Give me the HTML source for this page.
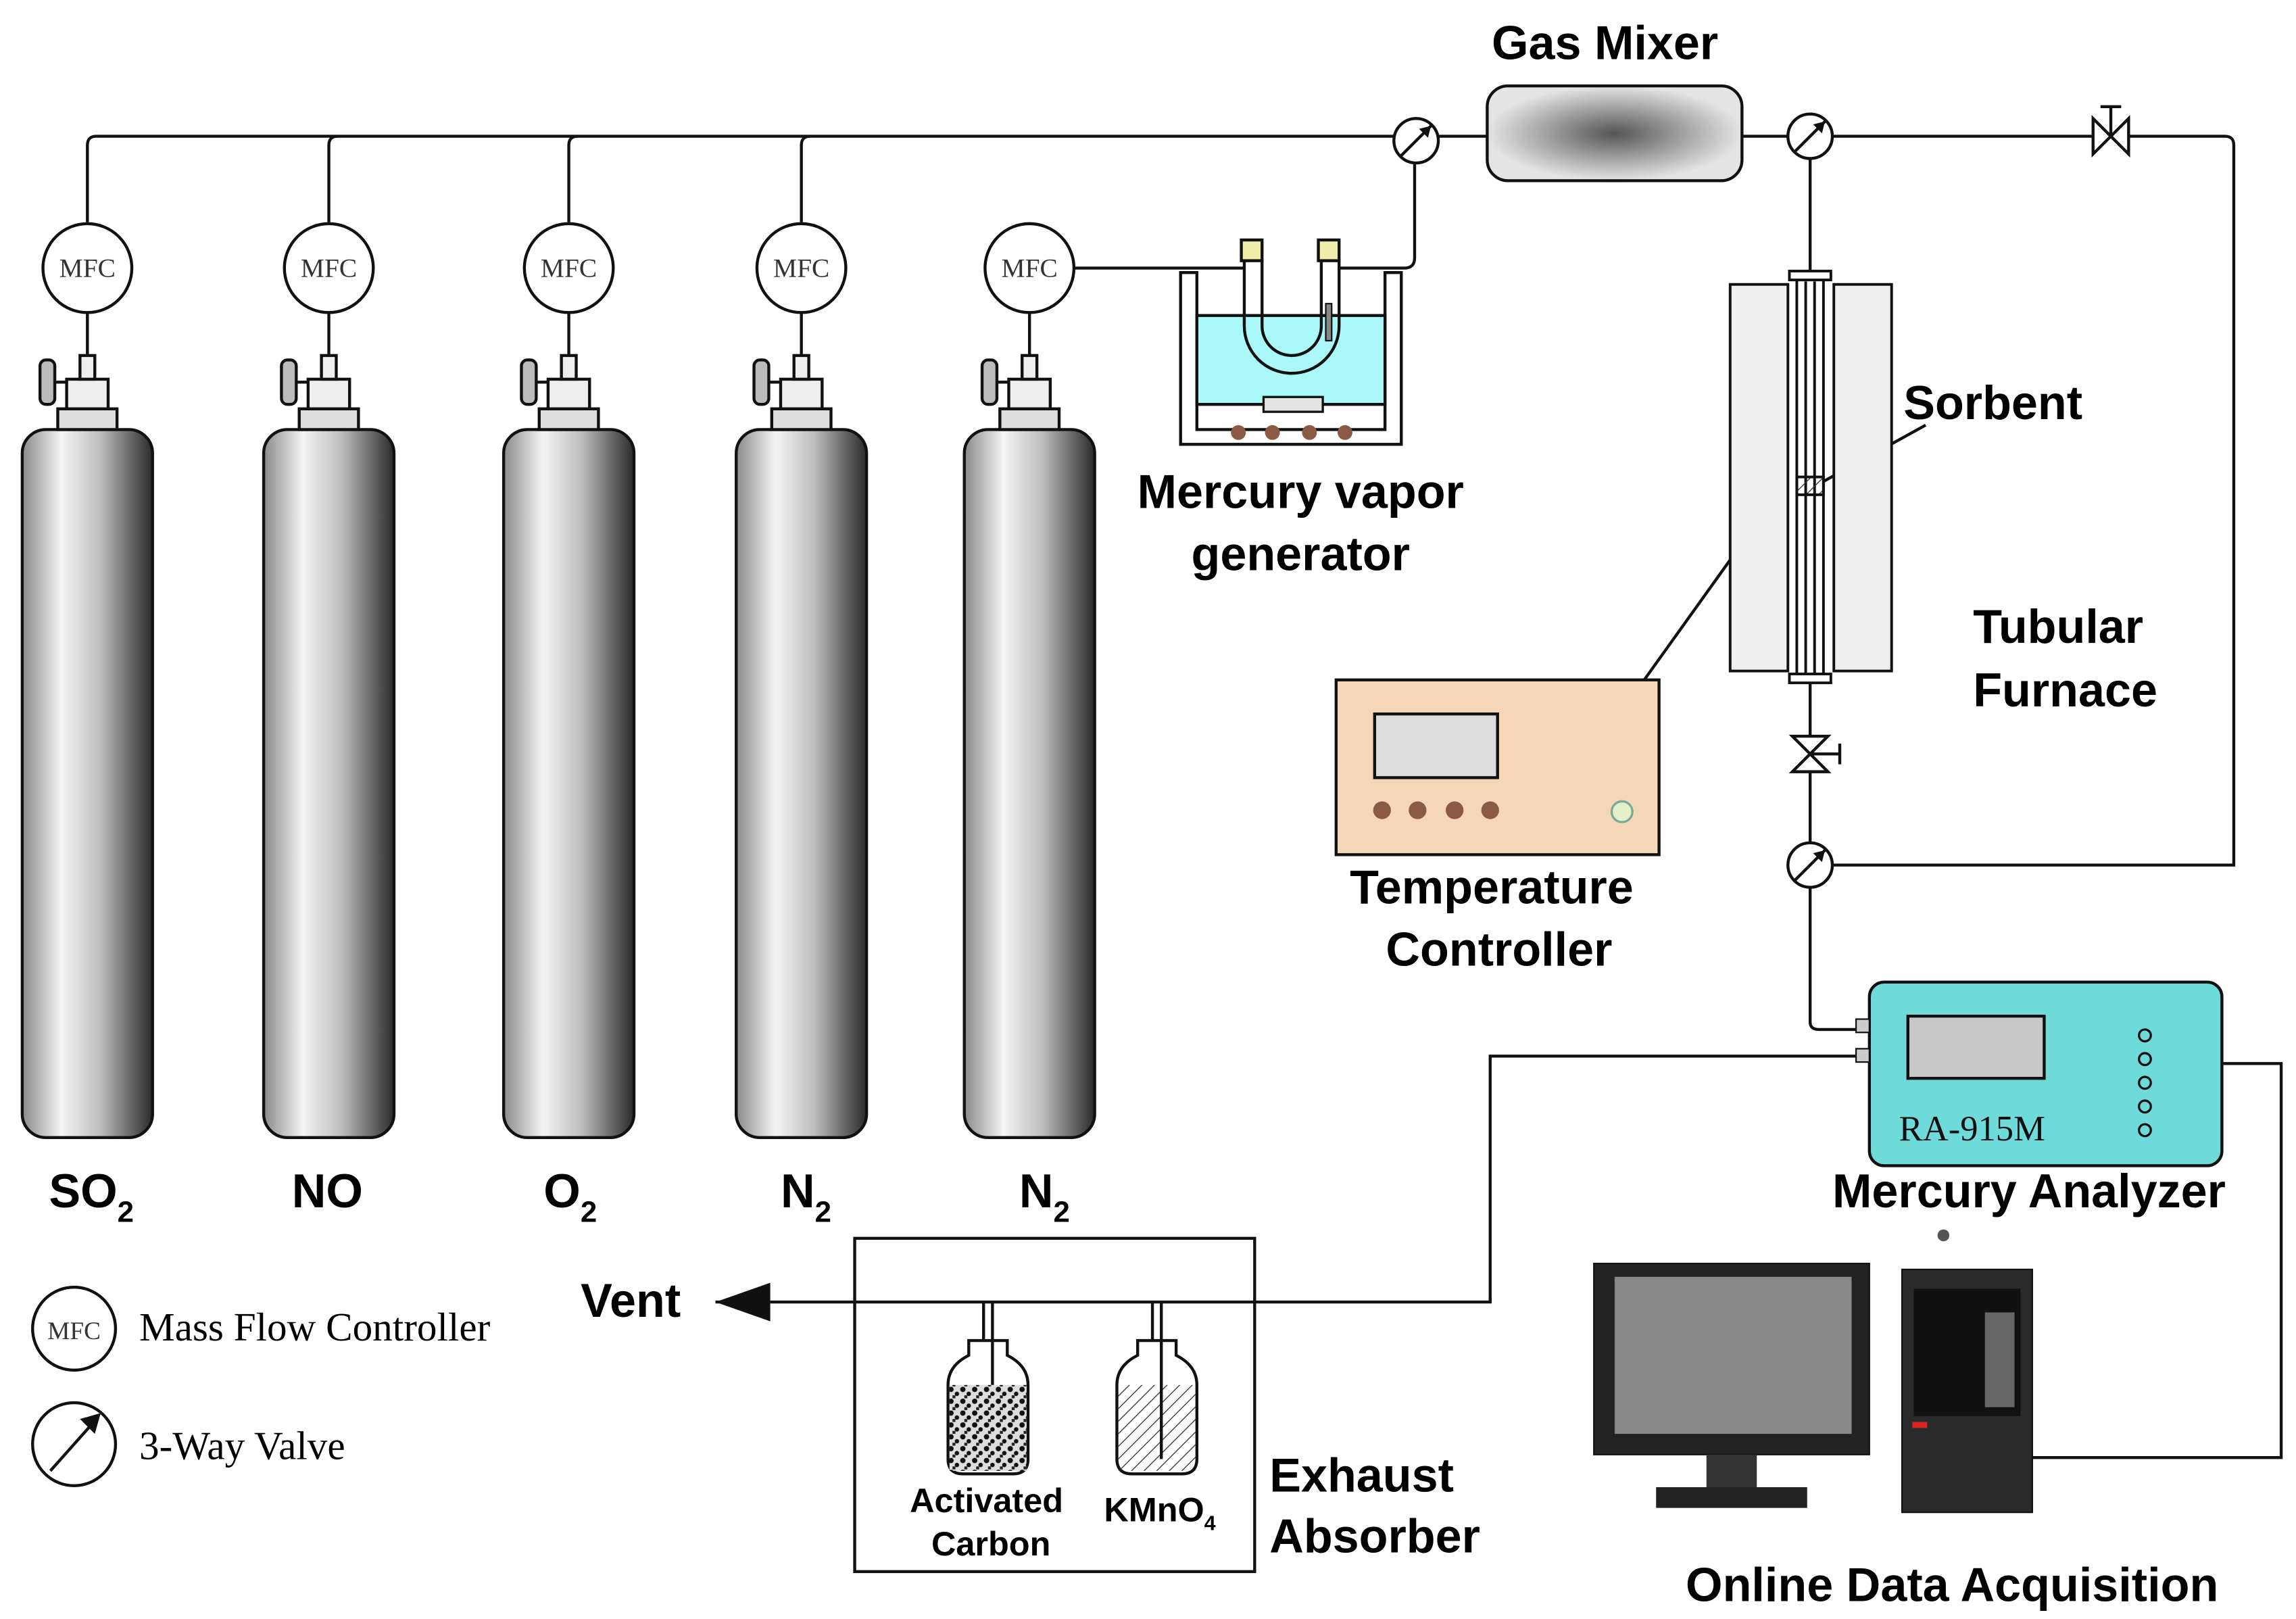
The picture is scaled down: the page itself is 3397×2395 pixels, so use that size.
<!DOCTYPE html>
<html><head><style>html,body{margin:0;padding:0;background:#fff}svg{display:block}</style></head><body>
<svg width="3397" height="2395" viewBox="0 0 1550 1093" preserveAspectRatio="none" xmlns="http://www.w3.org/2000/svg" font-family="Liberation Sans, sans-serif">
<defs>
<linearGradient id="cyl" x1="0" x2="1" y1="0" y2="0">
<stop offset="0" stop-color="#8a8a8a"/><stop offset="0.3" stop-color="#f4f4f4"/><stop offset="0.6" stop-color="#bdbdbd"/><stop offset="1" stop-color="#2a2a2a"/></linearGradient>
<radialGradient id="mix" cx="0.5" cy="0.5" r="0.5"><stop offset="0" stop-color="#555"/><stop offset="1" stop-color="#e4e4e4"/></radialGradient>
<pattern id="hatch" width="6" height="6" patternUnits="userSpaceOnUse" patternTransform="rotate(45)"><line x1="0" y1="0" x2="0" y2="6" stroke="#333" stroke-width="1.2"/></pattern>
<pattern id="dots" width="8" height="8" patternUnits="userSpaceOnUse"><rect width="8" height="8" fill="#ddd"/><circle cx="2" cy="2" r="1.8" fill="#111"/><circle cx="6" cy="5" r="1.5" fill="#111"/><rect x="3" y="6" width="2" height="2" fill="#222"/></pattern>
</defs>
<g fill="none" stroke="#111" stroke-width="2">
<path d="M59,150 V98 Q59,92 65,92 H941"/>
<path d="M222,150 V98 Q222,92 228,92"/>
<path d="M384,150 V98 Q384,92 390,92"/>
<path d="M541,150 V98 Q541,92 547,92"/>
<path d="M725,181 H840"/>
<path d="M904,181 H948 Q955,181 955,174 V110"/>
<path d="M971,92 H1004"/>
<path d="M1176,92 H1207"/>
<path d="M1237,92 H1413 M1437,92 H1502 Q1508,92 1508,98 V584 H1237"/>
<path d="M1222,107 V185"/>
<path d="M1222,460 V569"/>
<path d="M1222,599 V690 Q1222,695 1228,695 H1255"/>
<path d="M1255,713 H1006 V879 H520"/>
<path d="M1500,718 H1540 V984 H1372"/>
<path d="M1110,459 L1168,378"/>
<path d="M1222,330 L1300,287"/>
</g>
<g stroke="#111" stroke-width="2">
<g id="c1">
<rect x="15" y="290" width="88" height="478" rx="16" fill="url(#cyl)"/>
<rect x="39" y="276" width="40" height="14" fill="#ddd"/>
<rect x="45" y="256" width="28" height="20" fill="#eee"/>
<rect x="54" y="240" width="10" height="16" fill="#eee"/>
<rect x="27" y="243" width="10" height="30" rx="4" fill="#bbb"/>
<line x1="37" y1="258" x2="45" y2="258"/>
<line x1="59" y1="211" x2="59" y2="240"/>
<circle cx="59" cy="181" r="30" fill="#fff"/>
</g>
<use href="#c1" x="163"/><use href="#c1" x="325"/><use href="#c1" x="482"/><use href="#c1" x="636"/>
</g>
<g font-family="Liberation Serif, serif" font-size="18" fill="#333" text-anchor="middle">
<text x="59" y="187">MFC</text><text x="222" y="187">MFC</text><text x="384" y="187">MFC</text><text x="541" y="187">MFC</text><text x="695" y="187">MFC</text>
</g>
<g font-weight="bold" font-size="32" fill="#000">
<text x="33" y="815">SO<tspan font-size="20" dy="10">2</tspan></text>
<text x="197" y="815">NO</text>
<text x="367" y="815">O<tspan font-size="20" dy="10">2</tspan></text>
<text x="527" y="815">N<tspan font-size="20" dy="10">2</tspan></text>
<text x="688" y="815">N<tspan font-size="20" dy="10">2</tspan></text>
<text x="1007" y="40">Gas Mixer</text>
<text x="878" y="343" text-anchor="middle">Mercury vapor</text>
<text x="878" y="385" text-anchor="middle">generator</text>
<text x="1285" y="283">Sorbent</text>
<text x="1332" y="434">Tubular</text>
<text x="1332" y="477">Furnace</text>
<text x="1007" y="610" text-anchor="middle">Temperature</text>
<text x="1012" y="652" text-anchor="middle">Controller</text>
<text x="1237" y="815">Mercury Analyzer</text>
<text x="392" y="889">Vent</text>
<text x="857" y="1007">Exhaust</text>
<text x="857" y="1048">Absorber</text>
<text x="1138" y="1081">Online Data Acquisition</text>
</g>
<g stroke="#111" stroke-width="2">
<path d="M797,184 H808 V290 H935 V184 H946 V300 H797 Z" fill="#fff"/>
<rect x="808" y="213" width="127" height="60" fill="#aaf8f8"/>
<path d="M840,175 V220 A32,32 0 0 0 904,220 V175" fill="none"/>
<path d="M852,175 V220 A20,20 0 0 0 892,220 V175" fill="none"/>
<rect x="838" y="162" width="14" height="14" fill="#eeeeaa"/>
<rect x="890" y="162" width="14" height="14" fill="#eeeeaa"/>
<rect x="895" y="205" width="4" height="25" fill="#888" stroke-width="1"/>
<rect x="853" y="268" width="40" height="10" fill="#e4e4e4" stroke-width="1.5"/>
</g>
<g fill="#8a5a44"><circle cx="836" cy="292" r="5"/><circle cx="859" cy="292" r="5"/><circle cx="884" cy="292" r="5"/><circle cx="908" cy="292" r="5"/></g>
<g stroke="#111" stroke-width="2" fill="#fff">
<circle cx="956" cy="95" r="15"/><circle cx="1222" cy="92" r="15"/><circle cx="1222" cy="584" r="15"/>
<circle cx="50" cy="975" r="28"/>
<circle cx="50" cy="897" r="28"/>
</g>
<g stroke="#111" stroke-width="2">
<line x1="946" y1="105" x2="966" y2="85"/><line x1="1212" y1="102" x2="1232" y2="82"/><line x1="1212" y1="594" x2="1232" y2="574"/>
<line x1="34" y1="993" x2="66" y2="957"/>
</g>
<g fill="#111"><path d="M966,85 l-8,2 6,6z"/><path d="M1232,82 l-8,2 6,6z"/><path d="M1232,574 l-8,2 6,6z"/><path d="M68,954 l-14,4 10,10z"/></g>
<g stroke="#111" stroke-width="2" fill="#fff">
<path d="M1413,80 L1437,104 V80 L1413,104 Z"/><line x1="1425" y1="92" x2="1425" y2="72"/><line x1="1418" y1="72" x2="1432" y2="72"/>
<path d="M1210,497 L1234,521 H1210 L1234,497 Z"/><line x1="1222" y1="509" x2="1242" y2="509"/><line x1="1242" y1="502" x2="1242" y2="516"/>
</g>
<rect x="1004" y="58" width="172" height="64" rx="14" fill="url(#mix)" stroke="#111" stroke-width="2"/>
<g stroke="#111" stroke-width="1.8">
<rect x="1168" y="192" width="39" height="261" fill="#eee"/>
<rect x="1238" y="192" width="39" height="261" fill="#eee"/>
<rect x="1213" y="185" width="18" height="275" fill="#fff"/>
<line x1="1219" y1="190" x2="1219" y2="455"/><line x1="1225" y1="190" x2="1225" y2="455"/>
<rect x="1208" y="183" width="28" height="6" fill="#fff"/>
<rect x="1208" y="455" width="28" height="6" fill="#fff"/>
<rect x="1213" y="322" width="18" height="12" fill="url(#hatch)"/>
</g>
<rect x="902" y="459" width="218" height="118" fill="#f5d7b8" stroke="#111" stroke-width="2"/>
<rect x="928" y="482" width="83" height="43" fill="#ddd" stroke="#111" stroke-width="2"/>
<g fill="#8a5a44"><circle cx="933" cy="547" r="6"/><circle cx="957" cy="547" r="6"/><circle cx="982" cy="547" r="6"/><circle cx="1006" cy="547" r="6"/></g>
<circle cx="1095" cy="548" r="7" fill="#e4f0c8" stroke="#7a9" stroke-width="1.5"/>
<rect x="1262" y="663" width="238" height="124" rx="10" fill="#6fdada" stroke="#111" stroke-width="2"/>
<rect x="1288" y="686" width="92" height="42" fill="#c8c8c8" stroke="#111" stroke-width="2"/>
<rect x="1253" y="688" width="9" height="9" fill="#ccc" stroke="#111"/><rect x="1253" y="708" width="9" height="9" fill="#ccc" stroke="#111"/>
<text x="1282" y="770" font-family="Liberation Serif, serif" font-size="24" fill="#111">RA-915M</text>
<g fill="none" stroke="#111" stroke-width="1.5"><circle cx="1448" cy="699" r="4"/><circle cx="1448" cy="715" r="4"/><circle cx="1448" cy="731" r="4"/><circle cx="1448" cy="747" r="4"/><circle cx="1448" cy="763" r="4"/></g>
<rect x="1076" y="853" width="186" height="129" fill="#222" stroke="#111"/>
<rect x="1090" y="862" width="160" height="106" fill="#888"/>
<rect x="1152" y="982" width="34" height="22" fill="#333"/>
<rect x="1118" y="1004" width="102" height="14" fill="#222"/>
<rect x="1284" y="857" width="88" height="164" fill="#2a2a2a" stroke="#111"/>
<rect x="1292" y="870" width="72" height="86" fill="#111"/>
<rect x="1340" y="886" width="20" height="64" fill="#666"/>
<rect x="1291" y="960" width="10" height="4" fill="#d22"/>
<circle cx="1312" cy="834" r="4" fill="#555"/>
<path d="M520,879 L483,879" stroke="#111" stroke-width="2"/>
<path d="M483,879 L520,866 V892 Z" fill="#111"/>
<rect x="577" y="836" width="270" height="225" fill="none" stroke="#111" stroke-width="2"/>
<g stroke="#111" stroke-width="2">
<path d="M654,905 H680 V915 Q694,922 694,935 V985 Q694,995 684,995 H650 Q640,995 640,985 V935 Q640,922 654,915 Z" fill="#fff"/>
<rect x="641" y="935" width="52" height="58" fill="url(#dots)" stroke="none"/>
<line x1="664" y1="879" x2="664" y2="905"/><line x1="670" y1="879" x2="670" y2="935"/>
<path d="M768,905 H794 V915 Q808,922 808,935 V985 Q808,995 798,995 H764 Q754,995 754,985 V935 Q754,922 768,915 Z" fill="#fff"/>
<rect x="755" y="935" width="52" height="58" fill="url(#hatch)" stroke="none"/>
<line x1="778" y1="879" x2="778" y2="905"/><line x1="784" y1="879" x2="784" y2="985"/>
</g>
<g font-weight="bold" font-size="23" fill="#000" text-anchor="middle">
<text x="666" y="1021">Activated</text><text x="669" y="1050">Carbon</text>
<text x="783" y="1027">KMnO<tspan font-size="14" dy="6">4</tspan></text>
</g>
<text x="50" y="904" text-anchor="middle" font-family="Liberation Serif, serif" font-size="17" fill="#333">MFC</text>
<g font-family="Liberation Serif, serif" font-size="27" fill="#000">
<text x="94" y="905">Mass Flow Controller</text>
<text x="94" y="985">3-Way Valve</text>
</g>
</svg>
</body></html>
